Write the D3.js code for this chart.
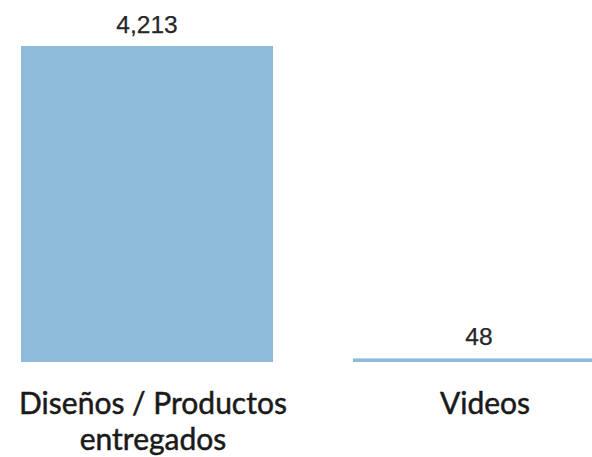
<!DOCTYPE html>
<html>
<head>
<meta charset="utf-8">
<script src="https://cdn.jsdelivr.net/npm/d3@7"></script>
<style>
  html, body { margin: 0; padding: 0; background: #ffffff; }
  svg { display: block; }
</style>
</head>
<body>
<svg id="chart" width="592" height="457"></svg>
<script>
const categories = ["Diseños / Productos entregados", "Videos"];
const categoryLines = [["Diseños / Productos", "entregados"], ["Videos"]];
const values = [4213, 48];
const valueLabels = ["4,213", "48"];

const svg = d3.select("#chart");
const baseY = 362, topY = 46;

const x = d3.scaleBand()
  .domain(categories)
  .range([21, 605])
  .paddingInner(80 / 332)
  .paddingOuter(0);

const y = d3.scaleLinear()
  .domain([0, d3.max(values)])
  .range([baseY, topY]);

const data = categories.map((c, i) => ({ c, v: values[i], label: valueLabels[i], lines: categoryLines[i] }));

svg.selectAll("rect.bar")
  .data(data)
  .join("rect")
  .attr("class", "bar")
  .attr("x", d => x(d.c))
  .attr("y", d => y(d.v))
  .attr("width", x.bandwidth())
  .attr("height", d => baseY - y(d.v))
  .attr("fill", "#8FBBDA");

svg.selectAll("text.val")
  .data(data)
  .join("text")
  .attr("class", "val")
  .attr("x", d => x(d.c) + x.bandwidth() / 2)
  .attr("y", d => y(d.v) - 13)
  .attr("text-anchor", "middle")
  .attr("font-family", "'Liberation Sans', Arial, sans-serif")
  .attr("font-size", 24.5)
  .attr("fill", "#262626")
  .attr("stroke", "#262626")
  .attr("stroke-width", 0.25)
  .text(d => d.label);

const cat = svg.selectAll("text.cat")
  .data(data)
  .join("text")
  .attr("class", "cat")
  .attr("text-anchor", "middle")
  .attr("font-family", "Lato, 'Open Sans', sans-serif")
  .attr("font-size", 30)
  .attr("fill", "#1a1a1a")
  .attr("stroke", "#1a1a1a")
  .attr("stroke-width", 0.5);

cat.each(function(d) {
  const t = d3.select(this);
  const cx = x(d.c) + x.bandwidth() / 2 + 6;
  d.lines.forEach((ln, j) => {
    t.append("tspan")
      .attr("x", cx)
      .attr("y", 414 + j * 36)
      .text(ln);
  });
});
</script>
</body>
</html>
